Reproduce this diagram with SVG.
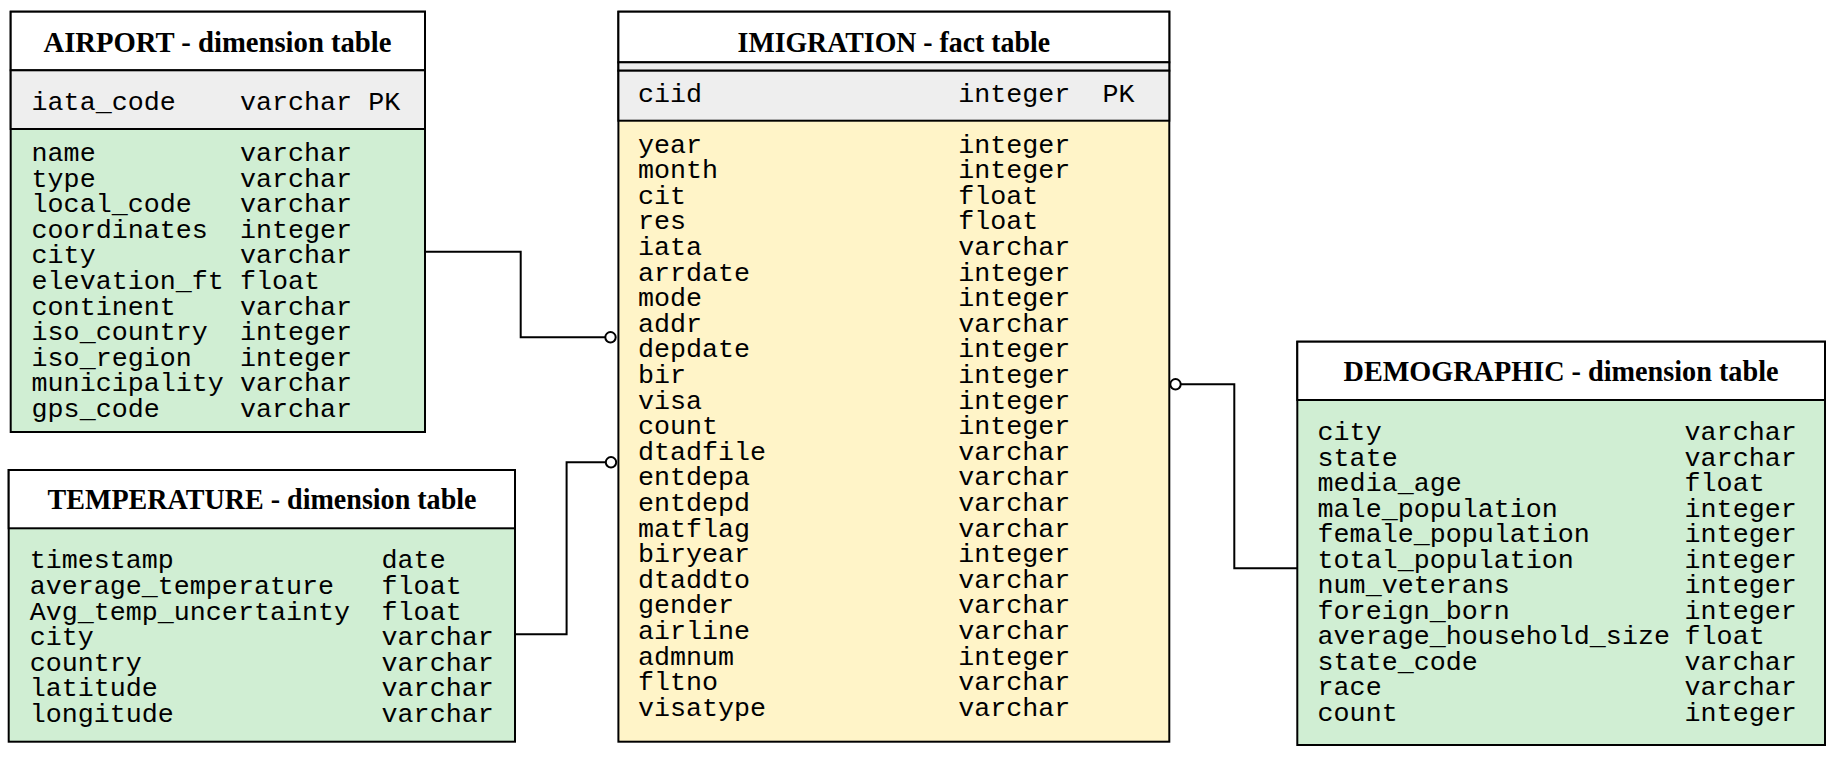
<svg xmlns="http://www.w3.org/2000/svg" width="1837" height="759" viewBox="0 0 1837 759">
<style>
.box{stroke:#000;stroke-width:2;}
.hdr{fill:#fff;}
.pk{fill:#eeeeee;}
.dim{fill:#d0eed3;}
.fact{fill:#fff4c8;}
.title{font-family:"Liberation Serif","Times New Roman",serif;font-weight:bold;font-size:28.5px;fill:#000;text-anchor:middle;}
.col{font-family:"Liberation Mono","Courier New",monospace;font-size:26.7px;fill:#000;}
.conn{stroke:#000;stroke-width:2;fill:none;}
</style>
<defs>
<marker id="zeroOne" markerUnits="userSpaceOnUse" markerWidth="14" markerHeight="14" refX="7" refY="7" orient="auto">
<circle cx="7" cy="7" r="5.2" fill="#fff" stroke="#000" stroke-width="2"/>
</marker>
</defs>
<rect width="1837" height="759" fill="#fff"/>

<g id="airport">
<rect x="10.7" y="11.7" width="414.3" height="420.3" class="box dim"/>
<rect x="10.7" y="11.7" width="414.3" height="58.6" class="box hdr"/>
<rect x="10.7" y="70.3" width="414.3" height="58.7" class="box pk"/>
<text x="217.5" y="51.7" class="title" textLength="348" lengthAdjust="spacingAndGlyphs">AIRPORT - dimension table</text>
<text x="31.6" y="110" class="col">iata_code</text>
<text x="240" y="110" class="col">varchar</text>
<text x="368.3" y="110" class="col">PK</text>
<text class="col">
<tspan x="31.6" y="161">name</tspan><tspan x="31.6" y="186.6">type</tspan><tspan x="31.6" y="212.2">local_code</tspan><tspan x="31.6" y="237.8">coordinates</tspan><tspan x="31.6" y="263.4">city</tspan><tspan x="31.6" y="289">elevation_ft</tspan><tspan x="31.6" y="314.6">continent</tspan><tspan x="31.6" y="340.2">iso_country</tspan><tspan x="31.6" y="365.8">iso_region</tspan><tspan x="31.6" y="391.4">municipality</tspan><tspan x="31.6" y="417">gps_code</tspan>
</text>
<text class="col">
<tspan x="240" y="161">varchar</tspan><tspan x="240" y="186.6">varchar</tspan><tspan x="240" y="212.2">varchar</tspan><tspan x="240" y="237.8">integer</tspan><tspan x="240" y="263.4">varchar</tspan><tspan x="240" y="289">float</tspan><tspan x="240" y="314.6">varchar</tspan><tspan x="240" y="340.2">integer</tspan><tspan x="240" y="365.8">integer</tspan><tspan x="240" y="391.4">varchar</tspan><tspan x="240" y="417">varchar</tspan>
</text>
</g>

<g id="temperature">
<rect x="8.7" y="470" width="506.3" height="271.7" class="box dim"/>
<rect x="8.7" y="470" width="506.3" height="58.3" class="box hdr"/>
<text x="262" y="509.3" class="title" textLength="429" lengthAdjust="spacingAndGlyphs">TEMPERATURE - dimension table</text>
<text class="col">
<tspan x="29.7" y="568.3">timestamp</tspan><tspan x="29.7" y="593.9">average_temperature</tspan><tspan x="29.7" y="619.5">Avg_temp_uncertainty</tspan><tspan x="29.7" y="645.1">city</tspan><tspan x="29.7" y="670.7">country</tspan><tspan x="29.7" y="696.3">latitude</tspan><tspan x="29.7" y="721.9">longitude</tspan>
</text>
<text class="col">
<tspan x="381.6" y="568.3">date</tspan><tspan x="381.6" y="593.9">float</tspan><tspan x="381.6" y="619.5">float</tspan><tspan x="381.6" y="645.1">varchar</tspan><tspan x="381.6" y="670.7">varchar</tspan><tspan x="381.6" y="696.3">varchar</tspan><tspan x="381.6" y="721.9">varchar</tspan>
</text>
</g>

<g id="imigration">
<rect x="618.4" y="11.7" width="550.9" height="730" class="box fact"/>
<rect x="618.4" y="11.7" width="550.9" height="50.6" class="box hdr"/>
<rect x="618.4" y="62.3" width="550.9" height="8.4" class="box pk"/>
<rect x="618.4" y="70.7" width="550.9" height="50" class="box pk"/>
<text x="893.8" y="51.7" class="title" textLength="312.5" lengthAdjust="spacingAndGlyphs">IMIGRATION - fact table</text>
<text x="638" y="102" class="col">ciid</text>
<text x="958.2" y="102" class="col">integer</text>
<text x="1102.5" y="102" class="col">PK</text>
<text class="col">
<tspan x="638" y="152.5">year</tspan><tspan x="638" y="178.1">month</tspan><tspan x="638" y="203.7">cit</tspan><tspan x="638" y="229.3">res</tspan><tspan x="638" y="254.9">iata</tspan><tspan x="638" y="280.5">arrdate</tspan><tspan x="638" y="306.1">mode</tspan><tspan x="638" y="331.7">addr</tspan><tspan x="638" y="357.3">depdate</tspan><tspan x="638" y="382.9">bir</tspan><tspan x="638" y="408.5">visa</tspan><tspan x="638" y="434.1">count</tspan><tspan x="638" y="459.7">dtadfile</tspan><tspan x="638" y="485.3">entdepa</tspan><tspan x="638" y="510.9">entdepd</tspan><tspan x="638" y="536.5">matflag</tspan><tspan x="638" y="562.1">biryear</tspan><tspan x="638" y="587.7">dtaddto</tspan><tspan x="638" y="613.3">gender</tspan><tspan x="638" y="638.9">airline</tspan><tspan x="638" y="664.5">admnum</tspan><tspan x="638" y="690.1">fltno</tspan><tspan x="638" y="715.7">visatype</tspan>
</text>
<text class="col">
<tspan x="958.2" y="152.5">integer</tspan><tspan x="958.2" y="178.1">integer</tspan><tspan x="958.2" y="203.7">float</tspan><tspan x="958.2" y="229.3">float</tspan><tspan x="958.2" y="254.9">varchar</tspan><tspan x="958.2" y="280.5">integer</tspan><tspan x="958.2" y="306.1">integer</tspan><tspan x="958.2" y="331.7">varchar</tspan><tspan x="958.2" y="357.3">integer</tspan><tspan x="958.2" y="382.9">integer</tspan><tspan x="958.2" y="408.5">integer</tspan><tspan x="958.2" y="434.1">integer</tspan><tspan x="958.2" y="459.7">varchar</tspan><tspan x="958.2" y="485.3">varchar</tspan><tspan x="958.2" y="510.9">varchar</tspan><tspan x="958.2" y="536.5">varchar</tspan><tspan x="958.2" y="562.1">integer</tspan><tspan x="958.2" y="587.7">varchar</tspan><tspan x="958.2" y="613.3">varchar</tspan><tspan x="958.2" y="638.9">varchar</tspan><tspan x="958.2" y="664.5">integer</tspan><tspan x="958.2" y="690.1">varchar</tspan><tspan x="958.2" y="715.7">varchar</tspan>
</text>
</g>

<g id="demographic">
<rect x="1297.3" y="341.7" width="527.7" height="403.3" class="box dim"/>
<rect x="1297.3" y="341.7" width="527.7" height="58.3" class="box hdr"/>
<text x="1561" y="380.7" class="title" textLength="435" lengthAdjust="spacingAndGlyphs">DEMOGRAPHIC - dimension table</text>
<text class="col">
<tspan x="1317.6" y="440">city</tspan><tspan x="1317.6" y="465.5">state</tspan><tspan x="1317.6" y="491">media_age</tspan><tspan x="1317.6" y="516.5">male_population</tspan><tspan x="1317.6" y="542">female_population</tspan><tspan x="1317.6" y="567.5">total_population</tspan><tspan x="1317.6" y="593">num_veterans</tspan><tspan x="1317.6" y="618.5">foreign_born</tspan><tspan x="1317.6" y="644">average_household_size</tspan><tspan x="1317.6" y="669.5">state_code</tspan><tspan x="1317.6" y="695">race</tspan><tspan x="1317.6" y="720.5">count</tspan>
</text>
<text class="col">
<tspan x="1684.6" y="440">varchar</tspan><tspan x="1684.6" y="465.5">varchar</tspan><tspan x="1684.6" y="491">float</tspan><tspan x="1684.6" y="516.5">integer</tspan><tspan x="1684.6" y="542">integer</tspan><tspan x="1684.6" y="567.5">integer</tspan><tspan x="1684.6" y="593">integer</tspan><tspan x="1684.6" y="618.5">integer</tspan><tspan x="1684.6" y="644">float</tspan><tspan x="1684.6" y="669.5">varchar</tspan><tspan x="1684.6" y="695">varchar</tspan><tspan x="1684.6" y="720.5">integer</tspan>
</text>
</g>

<g id="connectors">
<path class="conn" d="M425,251.7 H520.7 V337.3 H610.5" marker-end="url(#zeroOne)"/>
<path class="conn" d="M515,634.3 H566.6 V462.3 H611" marker-end="url(#zeroOne)"/>
<path class="conn" d="M1297.3,568.3 H1234.3 V384.3 H1175.5" marker-end="url(#zeroOne)"/>
</g>
</svg>
